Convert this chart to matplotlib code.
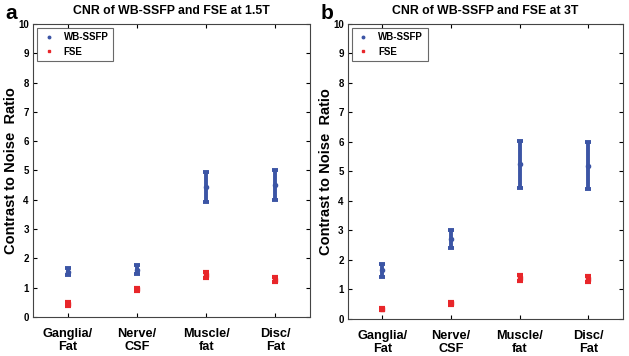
import numpy as np
import matplotlib.pyplot as plt

plt.rcParams['font.family'] = ['Liberation Sans', 'DejaVu Sans']

categories = ['Ganglia/\nFat', 'Nerve/\nCSF', 'Muscle/\nfat', 'Disc/\nFat']

# 1.5T
ssfp_15 = [1.55, 1.62, 4.45, 4.50]
ssfp_15_err = [0.12, 0.14, 0.51, 0.50]
fse_15 = [0.44, 0.94, 1.42, 1.27]
fse_15_err = [0.08, 0.06, 0.10, 0.09]

# 3T
ssfp_3 = [1.65, 2.72, 5.25, 5.20]
ssfp_3_err = [0.22, 0.30, 0.80, 0.80]
fse_3 = [0.33, 0.53, 1.40, 1.36]
fse_3_err = [0.04, 0.06, 0.10, 0.09]

blue = '#3c55a5'
red = '#e8262a'

fig = plt.figure(figsize=(6.29, 3.56), dpi=100)
ax1 = fig.add_axes([0.0525, 0.1096, 0.4403, 0.823])
ax2 = fig.add_axes([0.553, 0.104, 0.437, 0.8286])

x = np.arange(1, 5)

def panel(ax, s, se, f, fe, title, letter, lx):
    ax.errorbar(x, s, yerr=se, fmt='o', color=blue, ms=3, elinewidth=2.8,
                capsize=2, capthick=2.8, label='WB-SSFP')
    ax.errorbar(x, f, yerr=fe, fmt='s', color=red, ms=3, elinewidth=3.5,
                capsize=2, capthick=3, label='FSE')
    ax.set_xlim(0.5, 4.5)
    ax.set_ylim(0, 10)
    ax.set_yticks(range(0, 11))
    ax.set_xticks(x)
    ax.set_xticklabels(categories, fontsize=9.2, fontweight='bold', linespacing=1.15)
    ax.tick_params(axis='y', labelsize=7, direction='in', right=True, length=3, pad=3)
    ax.tick_params(axis='x', direction='in', top=True, length=3, pad=8)
    for lab in ax.get_yticklabels():
        lab.set_fontweight('bold')
    for sp in ax.spines.values():
        sp.set_linewidth(0.8)
        sp.set_color('#444444')
    ax.set_ylabel('Contrast to Noise  Ratio', fontsize=10.5, fontweight='bold', labelpad=0)
    ax.set_title(title, fontsize=8.8, fontweight='bold', pad=7)
    h, l = ax.get_legend_handles_labels()
    leg = ax.legend([hh[0] for hh in h], l, loc='upper left',
                    prop={'weight': 'bold', 'size': 7}, fancybox=False,
                    edgecolor='#444444', borderaxespad=0.4, handletextpad=0.8,
                    handlelength=1.5, markerscale=0.6, borderpad=0.45,
                    labelspacing=0.45)
    leg.get_frame().set_linewidth(0.8)
    fig.text(lx, 0.963, letter, fontsize=15, fontweight='bold', va='center', ha='left')

panel(ax1, ssfp_15, ssfp_15_err, fse_15, fse_15_err,
      'CNR of WB-SSFP and FSE at 1.5T', 'a', 0.008)
panel(ax2, ssfp_3, ssfp_3_err, fse_3, fse_3_err,
      'CNR of WB-SSFP and FSE at 3T', 'b', 0.51)

fig.savefig('out.png', dpi=100)
